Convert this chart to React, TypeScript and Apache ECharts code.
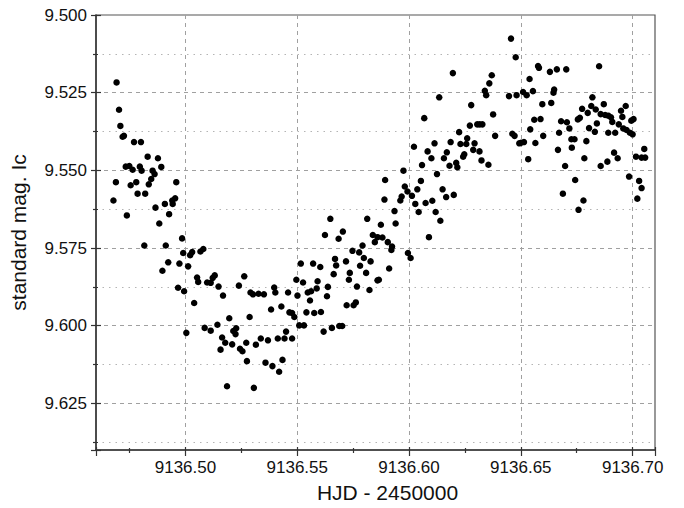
import React, { useEffect, useRef } from "react";
import * as echarts from "echarts";

const xTitle = "HJD - 2450000";
const yTitle = "standard mag. Ic";
const xMin = 9136.46;
const xMax = 9136.71;
const yMin = 9.5;
const yMax = 9.64;
const yStep = 0.025;

const hjd = [
  9136.4692, 9136.4703, 9136.4709, 9136.4719, 9136.4725, 9136.4770, 9136.4801, 9136.4831, 9136.4877, 9136.4733,
  9136.4749, 9136.4764, 9136.4796, 9136.4804, 9136.4853, 9136.4862, 9136.4892, 9136.4689, 9136.4755, 9136.4780,
  9136.4836, 9136.4847, 9136.4959, 9136.4678, 9136.4786, 9136.4820, 9136.4866, 9136.4908, 9136.4941, 9136.4954,
  9136.4943, 9136.4738, 9136.4883, 9136.4927, 9136.4816, 9136.4912, 9136.4985, 9136.4990, 9136.5021, 9136.5030,
  9136.5067, 9136.5080, 9136.4897, 9136.4923, 9136.4973, 9136.5012, 9136.4967, 9136.4994, 9136.5039, 9136.5052,
  9136.5057, 9136.5097, 9136.5113, 9136.5122, 9136.5131, 9136.5148, 9136.5168, 9136.5239, 9136.5004, 9136.5086,
  9136.5113, 9136.5143, 9136.5164, 9136.5178, 9136.5157, 9136.5196, 9136.5214, 9136.5227, 9136.5224, 9136.5209,
  9136.5244, 9136.5186, 9136.5263, 9136.5255, 9136.5272, 9136.5315, 9136.5337, 9136.5369, 9136.5413, 9136.5443,
  9136.5477, 9136.5450, 9136.5275, 9136.5358, 9136.5389, 9136.5419, 9136.5434, 9136.5306, 9136.5287, 9136.5291,
  9136.5302, 9136.5327, 9136.5351, 9136.5397, 9136.5402, 9136.5459, 9136.5501, 9136.5547, 9136.5562, 9136.5587,
  9136.5637, 9136.5633, 9136.5557, 9136.5383, 9136.5429, 9136.5465, 9136.5477, 9136.5487, 9136.5541, 9136.5576,
  9136.5606, 9136.5721, 9136.5752, 9136.5762, 9136.5509, 9136.5530, 9136.5655, 9136.5618, 9136.5688, 9136.5701,
  9136.5496, 9136.5526, 9136.5591, 9136.5516, 9136.5571, 9136.5603, 9136.5663, 9136.5669, 9136.5674, 9136.5718,
  9136.5735, 9136.5731, 9136.5767, 9136.5781, 9136.5808, 9136.5823, 9136.5859, 9136.5865, 9136.5911, 9136.5747,
  9136.5777, 9136.5798, 9136.5828, 9136.5921, 9136.5995, 9136.6007, 9136.6196, 9136.6135, 9136.6068, 9136.6224,
  9136.6022, 9136.6083, 9136.6114, 9136.6100, 9136.6186, 9136.6169, 9136.6156, 9136.6058, 9136.6181, 9136.6211,
  9136.6216, 9136.6230, 9136.5975, 9136.6125, 9136.5893, 9136.6053, 9136.5981, 9136.5993, 9136.6013, 9136.6037,
  9136.6150, 9136.5967, 9136.5961, 9136.5890, 9136.6028, 9136.6074, 9136.6104, 9136.6166, 9136.6200, 9136.5935,
  9136.6043, 9136.6119, 9136.6140, 9136.5648, 9136.5813, 9136.5940, 9136.5874, 9136.5704, 9136.5624, 9136.5685,
  9136.5838, 9136.5847, 9136.5859, 9136.5881, 9136.5905, 9136.5924, 9136.6089, 9136.5792, 9136.6456, 9136.6477,
  9136.6577, 9136.6581, 9136.6630, 9136.6661, 9136.6703, 9136.6850, 9136.6539, 9136.6370, 9136.6359, 9136.6339,
  9136.6345, 9136.6447, 9136.6481, 9136.6510, 9136.6526, 9136.6554, 9136.6649, 9136.6646, 9136.6636, 9136.6596,
  9136.6278, 9136.6376, 9136.6560, 9136.6588, 9136.6542, 9136.6462, 9136.6472, 9136.6493, 9136.6501, 9136.6514,
  9136.6565, 9136.6600, 9136.6385, 9136.6305, 9136.6316, 9136.6328, 9136.6272, 9136.6260, 9136.6256, 9136.6293,
  9136.6287, 9136.6315, 9136.6247, 9136.6242, 9136.6324, 9136.6355, 9136.6533, 9136.6666, 9136.6671, 9136.6680,
  9136.6706, 9136.6717, 9136.6698, 9136.6688, 9136.6726, 9136.6740, 9136.6728, 9136.6743, 9136.6758, 9136.6780,
  9136.6755, 9136.6764, 9136.6774, 9136.6799, 9136.6793, 9136.6784, 9136.6805, 9136.6820, 9136.6815, 9136.6835,
  9136.6840, 9136.6831, 9136.6871, 9136.6857, 9136.6877, 9136.6891, 9136.6903, 9136.6909, 9136.6891, 9136.6922,
  9136.6857, 9136.6887, 9136.6917, 9136.6933, 9136.6938, 9136.6958, 9136.6973, 9136.6988, 9136.7000, 9136.6948,
  9136.6969, 9136.6954, 9136.6994, 9136.7004, 9136.6984, 9136.7015, 9136.7040, 9136.7056, 9136.7052, 9136.7029,
  9136.7040, 9136.7021,
];

const mag = [
  9.5217, 9.5305, 9.5357, 9.5392, 9.5389, 9.5409, 9.5409, 9.5456, 9.5461, 9.5488,
  9.5486, 9.5498, 9.5488, 9.5501, 9.5501, 9.5512, 9.5489, 9.5538, 9.5548, 9.5538,
  9.5545, 9.5528, 9.5538, 9.5597, 9.5575, 9.5575, 9.5620, 9.5608, 9.5597, 9.5590,
  9.5608, 9.5645, 9.5671, 9.5641, 9.5742, 9.5742, 9.5719, 9.5766, 9.5773, 9.5763,
  9.5761, 9.5753, 9.5823, 9.5796, 9.5800, 9.5809, 9.5878, 9.5889, 9.5927, 9.5845,
  9.5859, 9.5861, 9.5862, 9.5846, 9.5838, 9.5874, 9.5903, 9.5871, 9.6023, 9.6007,
  9.6016, 9.5997, 9.6038, 9.6055, 9.6077, 9.5976, 9.6017, 9.6008, 9.6027, 9.6060,
  9.6074, 9.6195, 9.5841, 9.6082, 9.6055, 9.6061, 9.6041, 9.6047, 9.6041, 9.6041,
  9.6041, 9.6019, 9.6114, 9.6119, 9.6130, 9.6148, 9.6110, 9.6200, 9.5972, 9.5893,
  9.5899, 9.5897, 9.5899, 9.5877, 9.5893, 9.5893, 9.5903, 9.5893, 9.5889, 9.5880,
  9.5875, 9.5905, 9.5919, 9.5948, 9.5938, 9.5957, 9.5959, 9.5972, 9.5957, 9.5959,
  9.5956, 9.5934, 9.5934, 9.5925, 9.5999, 9.5999, 9.6007, 9.6019, 9.6001, 9.6001,
  9.5852, 9.5861, 9.5857, 9.5800, 9.5800, 9.5811, 9.5834, 9.5785, 9.5806, 9.5793,
  9.5830, 9.5852, 9.5874, 9.5807, 9.5830, 9.5885, 9.5854, 9.5852, 9.5816, 9.5759,
  9.5764, 9.5782, 9.5793, 9.5756, 9.5766, 9.5782, 9.5187, 9.5265, 9.5332, 9.5377,
  9.5424, 9.5439, 9.5413, 9.5461, 9.5409, 9.5442, 9.5461, 9.5483, 9.5485, 9.5476,
  9.5490, 9.5415, 9.5501, 9.5512, 9.5531, 9.5534, 9.5552, 9.5568, 9.5582, 9.5561,
  9.5561, 9.5584, 9.5597, 9.5594, 9.5608, 9.5605, 9.5598, 9.5586, 9.5579, 9.5631,
  9.5634, 9.5634, 9.5662, 9.5656, 9.5656, 9.5671, 9.5675, 9.5697, 9.5708, 9.5720,
  9.5708, 9.5731, 9.5715, 9.5716, 9.5731, 9.5745, 9.5715, 9.5742, 9.5076, 9.5136,
  9.5164, 9.5170, 9.5183, 9.5175, 9.5175, 9.5165, 9.5206, 9.5194, 9.5220, 9.5244,
  9.5258, 9.5261, 9.5258, 9.5248, 9.5258, 9.5245, 9.5240, 9.5250, 9.5283, 9.5287,
  9.5290, 9.5320, 9.5337, 9.5335, 9.5368, 9.5382, 9.5389, 9.5413, 9.5411, 9.5409,
  9.5412, 9.5389, 9.5389, 9.5352, 9.5352, 9.5352, 9.5356, 9.5397, 9.5415, 9.5413,
  9.5434, 9.5439, 9.5448, 9.5456, 9.5468, 9.5482, 9.5464, 9.5434, 9.5379, 9.5342,
  9.5345, 9.5365, 9.5486, 9.5575, 9.5400, 9.5400, 9.5427, 9.5531, 9.5627, 9.5597,
  9.5336, 9.5331, 9.5302, 9.5315, 9.5406, 9.5461, 9.5364, 9.5265, 9.5293, 9.5304,
  9.5349, 9.5376, 9.5287, 9.5319, 9.5322, 9.5324, 9.5329, 9.5344, 9.5379, 9.5379,
  9.5486, 9.5472, 9.5443, 9.5461, 9.5352, 9.5365, 9.5370, 9.5379, 9.5384, 9.5308,
  9.5293, 9.5328, 9.5340, 9.5335, 9.5520, 9.5456, 9.5459, 9.5459, 9.5431, 9.5534,
  9.5557, 9.5591,
];

const FONT = "'Liberation Sans', Arial, Helvetica, sans-serif";

export default function App() {
  const ref = useRef<HTMLDivElement>(null);

  useEffect(() => {
    document.body.style.margin = "0";
    if (!ref.current) return;
    const chart = echarts.init(ref.current, undefined, { renderer: "svg" });
    const points = hjd.map((x, i) => [x, mag[i]]);

    const majorGrid = { show: true, lineStyle: { color: "#a0a0a0", width: 1, type: [4, 4] as any }, showMinLine: false, showMaxLine: false };

    chart.setOption({
      animation: false,
      backgroundColor: "#ffffff",
      grid: {
        left: 94,
        right: 29,
        top: 15,
        bottom: 58,
        show: true,
        borderColor: "#555",
        borderWidth: 1.2,
        backgroundColor: "transparent",
      },
      xAxis: [
        {
          type: "value",
          min: xMin,
          max: xMax,
          splitNumber: 5,
          position: "bottom",
          name: xTitle,
          nameLocation: "middle",
          nameGap: 32,
          nameTextStyle: { fontFamily: FONT, fontSize: 21, color: "#111", padding: [0, 0, 0, 24] },
          axisLine: { show: true, lineStyle: { color: "#333", width: 1.5 } },
          axisTick: { show: true, inside: false, length: 6, lineStyle: { color: "#333", width: 1.2 } },
          minorTick: { show: true, splitNumber: 2, length: 3, lineStyle: { color: "#333", width: 1.2 } },
          axisLabel: {
            fontFamily: FONT,
            fontSize: 17,
            color: "#111",
            margin: 9,
            showMinLabel: false,
            showMaxLabel: false,
            formatter: (v: number) => v.toFixed(2),
          },
          splitLine: majorGrid,
          minorSplitLine: { show: false },
        },
        {
          type: "value",
          min: xMin,
          max: xMax,
          splitNumber: 5,
          position: "bottom",
          axisLine: { show: false },
          axisTick: { show: true, inside: true, length: 3, lineStyle: { color: "#333", width: 1.2 } },
          minorTick: { show: true, splitNumber: 2, length: 2, lineStyle: { color: "#333", width: 1.2 } },
          axisLabel: { show: false },
          splitLine: { show: false },
        },
      ],
      yAxis: [
        {
          type: "value",
          min: yMin,
          max: yMax,
          interval: yStep,
          inverse: true,
          position: "left",
          name: yTitle,
          nameLocation: "middle",
          nameGap: 67,
          nameTextStyle: { fontFamily: FONT, fontSize: 21, color: "#111" },
          axisLine: { show: true, lineStyle: { color: "#333", width: 1.5 } },
          axisTick: { show: true, inside: false, length: 5, lineStyle: { color: "#333", width: 1.2 } },
          minorTick: { show: true, splitNumber: 2, length: 3, lineStyle: { color: "#333", width: 1.2 } },
          axisLabel: {
            fontFamily: FONT,
            fontSize: 17,
            color: "#111",
            margin: 9,
            showMaxLabel: false,
            formatter: (v: number) => v.toFixed(3),
          },
          splitLine: majorGrid,
          minorSplitLine: { show: true, lineStyle: { color: "#b4b4b4", width: 1, type: [1.5, 5] as any } },
        },
        {
          type: "value",
          min: yMin,
          max: yMax,
          interval: yStep,
          inverse: true,
          position: "left",
          axisLine: { show: false },
          axisTick: { show: true, inside: true, length: 5, lineStyle: { color: "#333", width: 1.2 } },
          minorTick: { show: true, splitNumber: 2, length: 2, lineStyle: { color: "#333", width: 1.2 } },
          axisLabel: { show: false },
          splitLine: { show: false },
        },
      ],
      series: [
        {
          type: "scatter",
          xAxisIndex: 0,
          yAxisIndex: 0,
          data: points,
          symbol: "circle",
          symbolSize: 6.5,
          itemStyle: { color: "#000", opacity: 1 },
          z: 5,
        },
      ],
    });

    return () => chart.dispose();
  }, []);

  return <div ref={ref} style={{ width: 684, height: 508 }} />;
}
